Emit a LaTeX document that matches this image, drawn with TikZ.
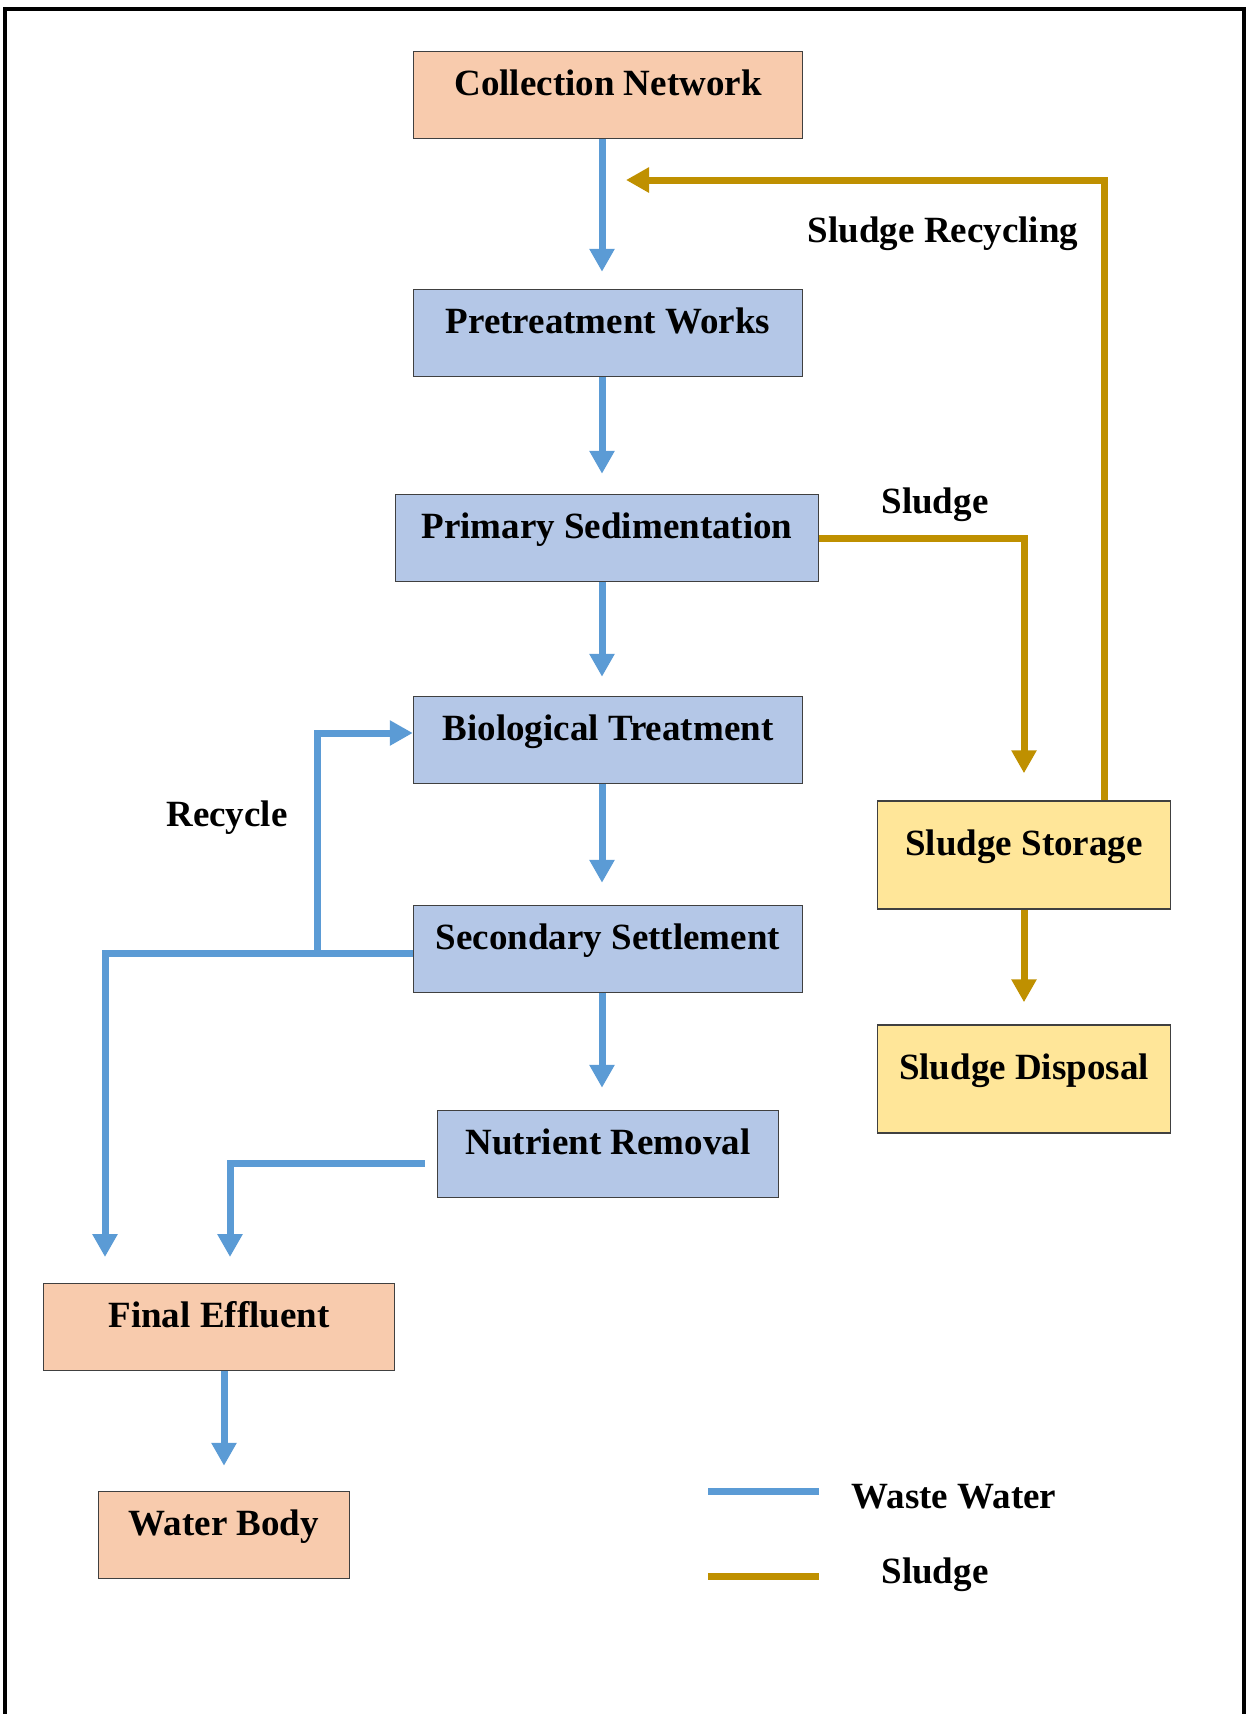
\documentclass[tikz,border=0pt]{standalone}
\usepackage{fontspec}
\setmainfont{Liberation Serif}
\usetikzlibrary{arrows.meta}

\definecolor{peach}{HTML}{F8CBAD}
\definecolor{steel}{HTML}{B4C7E7}
\definecolor{straw}{HTML}{FFE699}
\definecolor{wwblue}{HTML}{5B9BD5}
\definecolor{sludgegold}{HTML}{BF9000}

\newcommand{\plantbox}[5]{%
 \node [stagebox, fill={#4}, minimum width={#3}] ({#1}) at ({#2}) {#5};%
}
\newcommand{\sludgebox}[3]{%
 \node [stagebox, fill=straw, minimum width=293pt, minimum height=108pt] ({#1}) at ({#2}) {#3};%
}

\begin{document}
\begin{tikzpicture}[x=1pt,y=-1pt,
  every node/.style={font=\fontsize{37}{44}\selectfont\bfseries},
  stagebox/.style={draw=black!75,line width=1.5pt,minimum height=87pt,text height=14pt,text depth=14pt,inner sep=0pt},
  ww/.style={wwblue,line width=7pt,-{Triangle[width=24pt,length=23pt]}},
  sl/.style={sludgegold,line width=7pt,-{Triangle[width=24pt,length=23pt]}}]
  \useasboundingbox (0,0) rectangle (1246,1714);
  \draw[line width=4pt] (5,1714) -- (5,9) -- (1244,9) -- (1244,1714);

  % waste water line
  \plantbox{CN}{608,95}{389pt}{peach}{Collection Network};
  \plantbox{PW}{608,333}{389pt}{steel}{Pretreatment Works};
  \plantbox{PS}{607,538}{423pt}{steel}{Primary Sedimentation};
  \plantbox{BT}{608,740}{389pt}{steel}{Biological Treatment};
  \plantbox{SS}{608,949}{389pt}{steel}{Secondary Settlement};
  \plantbox{NR}{608,1154}{341pt}{steel}{Nutrient Removal};
  \plantbox{FE}{219,1327}{351pt}{peach}{Final Effluent};
  \plantbox{WB}{224,1535}{251pt}{peach}{Water Body};

  % sludge line
  \sludgebox{ST}{1024,855}{Sludge Storage};
  \sludgebox{SD}{1024,1079}{Sludge Disposal};

  \coordinate (trunk) at (602,0);
  \draw[ww,shorten >=17pt] (CN.south -| trunk) -- (PW.north -| trunk);
  \draw[ww,shorten >=20pt] (PW.south -| trunk) -- (PS.north -| trunk);
  \draw[ww,shorten >=19pt] (PS.south -| trunk) -- (BT.north -| trunk);
  \draw[ww,shorten >=22pt] (BT.south -| trunk) -- (SS.north -| trunk);
  \draw[ww,shorten >=22pt] (SS.south -| trunk) -- (NR.north -| trunk);
  \draw[ww,shorten >=25pt] (WB.north |- FE.south) -- (WB.north);

  \coordinate (rsplit) at (317,953);
  \coordinate (effl) at (105,1257);
  \coordinate (effr) at (230,1257);
  \draw[ww] ([yshift=-4pt]SS.west) -| (effl);
  \draw[ww] (rsplit) |- ([yshift=7pt]BT.west);
  \draw[ww] ([xshift=-12pt,yshift=-9pt]NR.west) -| (effr);
  \node (recycle) at (227,818) {Recycle};

  \draw[sl,shorten >=27pt] (PS.east) -| (ST.north);
  \node (sludgelbl) at (935,505) {Sludge};
  \coordinate (sret) at (1104,180);
  \coordinate (cnin) at (626,180);
  \draw[sl] (ST.north -| sret) |- (cnin);
  \node (sretlbl) at (943,234) {Sludge Recycling};
  \draw[sl,shorten >=22pt] (ST) -- (SD);

  % legend
  \draw[wwblue,line width=7pt] (708,1491) -- (819,1491);
  \node (keyww) at (954,1497) {Waste Water};
  \draw[sludgegold,line width=7pt] (708,1576) -- (819,1576);
  \node (keysl) at (935,1575) {Sludge};
\end{tikzpicture}
\end{document}
